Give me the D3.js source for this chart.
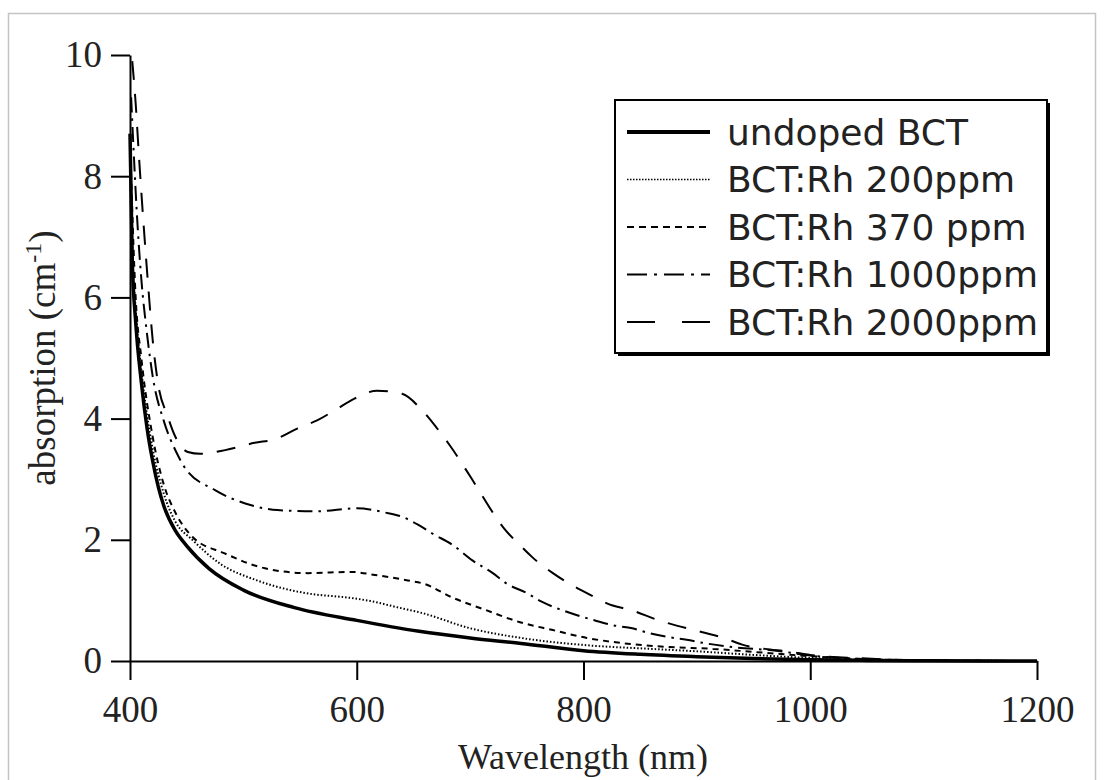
<!DOCTYPE html>
<html>
<head>
<meta charset="utf-8">
<script src="https://cdnjs.cloudflare.com/ajax/libs/d3/7.8.5/d3.min.js"></script>
<style>
  html, body { margin: 0; padding: 0; background: #fff; }
  svg { display: block; }
  .tick text, .axis-title { font-family: "Liberation Serif", "Times New Roman", serif; fill: #222; }
  .legend text { font-family: "DejaVu Sans", Verdana, sans-serif; fill: #222; }
</style>
</head>
<body>
<svg id="chart" width="1104" height="780"></svg>
<script>
// wavelength (nm), absorption (cm^-1)
var undoped = [[400, 8.7], [402, 6.6], [405, 5.6], [410, 4.6], [415, 3.85], [420, 3.3], [425, 2.87],
  [430, 2.55], [440, 2.15], [450, 1.9], [470, 1.52], [500, 1.17], [545, 0.88], [600, 0.67],
  [655, 0.49], [700, 0.38], [745, 0.29], [800, 0.17], [850, 0.11], [900, 0.07], [950, 0.04],
  [1000, 0.02], [1050, 0.01], [1100, 0.004], [1200, 0]];

var rh200 = [[400, 8.4], [402, 6.8], [405, 5.8], [410, 4.8], [420, 3.5], [430, 2.75], [440, 2.3],
  [455, 2.0], [480, 1.6], [512, 1.33], [555, 1.12], [595, 1.04], [612, 0.99], [635, 0.89],
  [658, 0.79], [700, 0.54], [745, 0.38], [803, 0.26], [860, 0.2], [900, 0.16], [950, 0.1],
  [1000, 0.05], [1050, 0.02], [1100, 0.01], [1200, 0]];

var rh370 = [[400, 8.6], [405, 6.0], [410, 5.0], [420, 3.7], [430, 2.9], [440, 2.45], [455, 2.05],
  [483, 1.78], [519, 1.53], [557, 1.45], [595, 1.47], [616, 1.42], [645, 1.33], [660, 1.27],
  [684, 1.05], [714, 0.84], [744, 0.64], [773, 0.51], [803, 0.38], [832, 0.3], [876, 0.23],
  [914, 0.2], [950, 0.15], [1000, 0.08], [1050, 0.03], [1100, 0.01], [1200, 0]];

var rh1000 = [[401, 9.3], [403, 8.5], [406, 7.4], [410, 6.3], [415, 5.4], [420, 4.7], [430, 3.95],
  [441, 3.44], [448, 3.2], [475, 2.82], [507, 2.57], [530, 2.49], [565, 2.47], [600, 2.52],
  [625, 2.45], [640, 2.38], [654, 2.25], [667, 2.1], [685, 1.91], [702, 1.66], [720, 1.45],
  [732, 1.28], [750, 1.12], [764, 0.97], [781, 0.84], [808, 0.68], [826, 0.59], [843, 0.54],
  [858, 0.46], [873, 0.4], [891, 0.35], [905, 0.3], [931, 0.23], [970, 0.17], [1000, 0.09],
  [1050, 0.03], [1100, 0.01], [1200, 0]];

var rh2000 = [[402, 9.9], [405, 9.2], [408, 8.3], [412, 7.2], [416, 6.2], [420, 5.3], [425, 4.55],
  [433, 4.05], [440, 3.7], [451, 3.45], [462, 3.42], [484, 3.48], [510, 3.6], [528, 3.66],
  [548, 3.84], [565, 3.97], [580, 4.13], [598, 4.33], [618, 4.46], [640, 4.41], [657, 4.15],
  [670, 3.86], [682, 3.56], [706, 2.87], [720, 2.45], [729, 2.21], [744, 1.91], [755, 1.71],
  [773, 1.45], [803, 1.12], [825, 0.92], [842, 0.84], [865, 0.68], [904, 0.48], [924, 0.38],
  [940, 0.27], [960, 0.2], [980, 0.16], [1000, 0.1], [1050, 0.04], [1100, 0.01], [1200, 0]];

var seriesNames = ["undoped BCT", "BCT:Rh 200ppm", "BCT:Rh 370 ppm", "BCT:Rh 1000ppm", "BCT:Rh 2000ppm"];
var xTicks = [400, 600, 800, 1000, 1200];
var yTicks = [0, 2, 4, 6, 8, 10];

var series = [
  { name: seriesNames[0], values: undoped, width: 3.5, dash: null, legendDash: null, legendWidth: 4 },
  { name: seriesNames[1], values: rh200, width: 2, dash: "1.5,2", legendDash: "1.5,1.5", legendWidth: 1.5 },
  { name: seriesNames[2], values: rh370, width: 2, dash: "6,5", legendDash: "7,5", legendWidth: 2 },
  { name: seriesNames[3], values: rh1000, width: 2, dash: "15,6,2.5,6", legendDash: "20,7,3,7", legendWidth: 2 },
  { name: seriesNames[4], values: rh2000, width: 2, dash: "19,14", legendDash: "28,27", legendWidth: 2 }
];

var svg = d3.select("#chart");

// light frame around the whole figure
svg.append("rect")
  .attr("x", 8.5).attr("y", 13.5)
  .attr("width", 1087).attr("height", 800)
  .attr("fill", "none").attr("stroke", "#c4c4c4").attr("stroke-width", 1.5);

var x = d3.scaleLinear().domain([400, 1200]).range([130, 1037]);
var y = d3.scaleLinear().domain([0, 10]).range([661, 55]);

var line = d3.line()
  .x(function(d) { return x(d[0]); })
  .y(function(d) { return y(d[1]); })
  .curve(d3.curveMonotoneX);

// curves
svg.append("g").selectAll("path")
  .data(series)
  .join("path")
  .attr("d", function(d) { return line(d.values); })
  .attr("fill", "none")
  .attr("stroke", "#000")
  .attr("stroke-width", function(d) { return d.width; })
  .attr("stroke-dasharray", function(d) { return d.dash; });

// axes
var xAxis = svg.append("g")
  .attr("transform", "translate(0," + y(0) + ")")
  .call(d3.axisBottom(x).tickValues(xTicks).tickSize(19).tickSizeOuter(0).tickPadding(16).tickFormat(d3.format("d")));

var yAxis = svg.append("g")
  .attr("transform", "translate(" + x(400) + ",0)")
  .call(d3.axisLeft(y).tickValues(yTicks).tickSize(19).tickSizeOuter(0).tickPadding(9).tickFormat(d3.format("d")));

[xAxis, yAxis].forEach(function(a) {
  a.select(".domain").attr("stroke", "#000").attr("stroke-width", 2);
  a.selectAll(".tick line").attr("stroke", "#000").attr("stroke-width", 2);
  a.selectAll(".tick text").attr("font-size", 37).attr("fill", "#222");
});

// axis titles
svg.append("text")
  .attr("class", "axis-title")
  .attr("x", 583).attr("y", 769)
  .attr("text-anchor", "middle")
  .attr("font-size", 36)
  .text("Wavelength (nm)");

var yTitle = svg.append("text")
  .attr("class", "axis-title")
  .attr("transform", "translate(55," + ((y(0) + y(10)) / 2) + ") rotate(-90)")
  .attr("text-anchor", "middle")
  .attr("font-size", 37);
yTitle.append("tspan").text("absorption (cm");
yTitle.append("tspan").attr("dy", -14).attr("font-size", 24).text("-1");
yTitle.append("tspan").attr("dy", 14).text(")");

// legend
var legend = svg.append("g").attr("class", "legend");
legend.append("rect")
  .attr("x", 618).attr("y", 103).attr("width", 432).attr("height", 253)
  .attr("fill", "#000");
legend.append("rect")
  .attr("x", 615).attr("y", 100).attr("width", 432).attr("height", 253)
  .attr("fill", "#fff").attr("stroke", "#000").attr("stroke-width", 2);

var rowY = d3.scalePoint().domain(seriesNames).range([132, 322]);

var rows = legend.selectAll("g.row")
  .data(series)
  .join("g")
  .attr("class", "row")
  .attr("transform", function(d) { return "translate(0," + rowY(d.name) + ")"; });

rows.append("line")
  .attr("x1", 627).attr("x2", 710)
  .attr("stroke", "#000")
  .attr("stroke-width", function(d) { return d.legendWidth; })
  .attr("stroke-dasharray", function(d) { return d.legendDash; });

rows.append("text")
  .attr("x", 727).attr("dy", "0.36em")
  .attr("font-size", 36)
  .text(function(d) { return d.name; });
</script>
</body>
</html>
